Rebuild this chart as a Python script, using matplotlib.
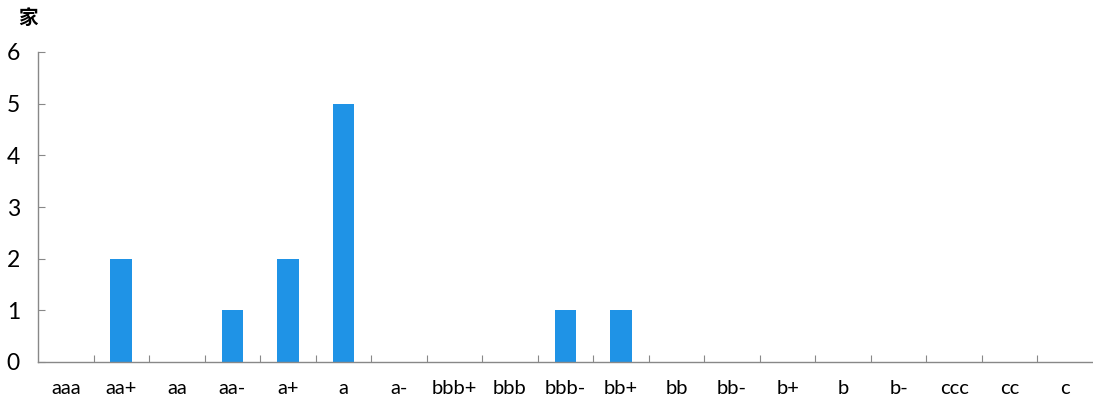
import matplotlib.pyplot as plt
import numpy as np

plt.rcParams['font.family'] = ['Lato', 'Noto Sans CJK SC', 'DejaVu Sans']

grades = ['aaa', 'aa+', 'aa', 'aa-', 'a+', 'a', 'a-', 'bbb+', 'bbb', 'bbb-',
          'bb+', 'bb', 'bb-', 'b+', 'b', 'b-', 'ccc', 'cc', 'c']
counts = [0, 2, 0, 1, 2, 5, 0, 0, 0, 1, 1, 0, 0, 0, 0, 0, 0, 0, 0]
yticks = [0, 1, 2, 3, 4, 5, 6]

fig = plt.figure(figsize=(10.93, 4.03), dpi=100)
ax = fig.add_axes([38 / 1093, 1 - 362 / 403, 1 - 38 / 1093, 310 / 403])

x = np.arange(len(grades))
ax.bar(x, counts, width=0.39, color='#1f93e6', zorder=2)

ax.set_xlim(-0.5, len(grades) - 0.5)
ax.set_ylim(0, 6)

ax.set_yticks(yticks)
ax.tick_params(axis='y', direction='in', length=5, color='#888888',
               labelsize=16.5, pad=13)

# boundary ticks on x, labels at category centres
ax.set_xticks(x[:-1] + 0.5)
ax.set_xticklabels([])
ax.tick_params(axis='x', which='major', direction='in', length=5, color='#888888')
ax.set_xticks(x, minor=True)
ax.set_xticklabels(grades, minor=True, fontsize=14.5)
ax.tick_params(axis='x', which='minor', length=0, pad=13)

for s in ['top', 'right']:
    ax.spines[s].set_visible(False)
for s in ['left', 'bottom']:
    ax.spines[s].set_color('#888888')
    ax.spines[s].set_linewidth(1.0)

fig.text(18 / 1093, 1 - 18 / 403, '家', fontsize=14, fontweight='bold',
         family=['Noto Sans CJK SC'], va='center', ha='left')

fig.savefig('out.png', dpi=100, facecolor='white')
